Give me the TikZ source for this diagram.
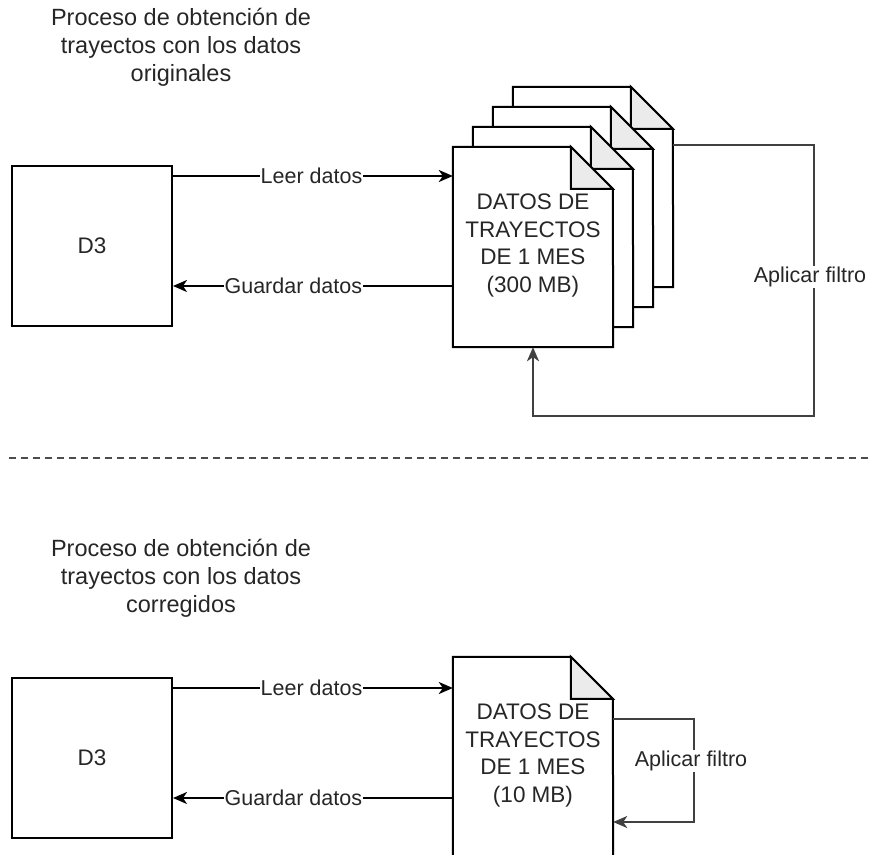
\documentclass[tikz,border=0pt]{standalone}
\usepackage{fontspec}
\setmainfont{Liberation Sans}
\usetikzlibrary{arrows.meta}
\newcommand\drawdoc[4]{%
  \node[docnode] (#1) at (#2+80,#3+100) {};
  \draw[docbody] (#1.north west) -- ++(118,0) -- ++(42,42) -- (#1.south east) -- (#1.south west) -- cycle;
  \draw[foldst] (#1.north west) ++(118,0) -- ++(0,42) -- ++(42,0) -- cycle;
  \node[txt, align=center, yshift=1.5pt] (#1t) at (#1.center) {#4};
}
\begin{document}
\begin{tikzpicture}[x=1pt,y=-1pt,
  txt/.style={text=black!85, font=\fontsize{22.5}{27.6}\selectfont},
  ttl/.style={text=black!85, font=\fontsize{23.5}{28}\selectfont, align=center},
  box/.style={draw, line width=2pt, minimum width=160pt, minimum height=160pt, inner sep=0pt, txt},
  conn/.style={line width=2pt},
  arr/.style={conn, -{Stealth[length=14pt,width=12pt,inset=4pt]}},
  looparr/.style={arr, draw=black!75},
  lbl/.style={text=black!85, font=\fontsize{21.5}{26}\selectfont, fill=white, inner sep=1pt},
  docbody/.style={fill=white, draw, line width=2pt, line join=miter},
  foldst/.style={fill=black!8, draw, line width=2pt, line join=miter},
  docnode/.style={minimum width=160pt, minimum height=200pt, inner sep=0pt}
]
\useasboundingbox (0,0) rectangle (870,854);
\clip (0,0) rectangle (870,854);

% ---------- top section ----------
\node[ttl] (title1) at (181,47.5) {Proceso de obtención de\\trayectos con los datos\\originales};
\node[box] (d3a) at (92,246) {D3};

\drawdoc{doc4}{513}{87}{}
\drawdoc{doc3}{493}{107}{}
\drawdoc{doc2}{473}{127}{}
\drawdoc{doc1}{453}{147}{DATOS DE\\TRAYECTOS\\DE 1 MES\\(300 MB)}

\draw[arr] (d3a.east |- 0,176) -- node[lbl, pos=0.495]{Leer datos} (doc1.west |- 0,176);
\draw[arr] (doc1.west |- 0,286) -- node[lbl, pos=0.57]{Guardar datos} (d3a.east |- 0,286);
\draw[looparr] (doc4.east |- 0,145) -- (814,145) -- node[lbl, pos=0.487, xshift=-4pt]{Aplicar filtro} (814,416) -- (doc1.south |- 0,416) -- (doc1.south);

% ---------- separator ----------
\draw[black!70, line width=2pt, dash pattern=on 7pt off 5pt] (9,458) -- (870,458);

% ---------- bottom section ----------
\node[ttl] (title2) at (181,578) {Proceso de obtención de\\trayectos con los datos\\corregidos};
\node[box] (d3b) at (92,757.5) {D3};

\drawdoc{doc5}{453}{657}{DATOS DE\\TRAYECTOS\\DE 1 MES\\(10 MB)}

\draw[arr] (d3b.east |- 0,688) -- node[lbl, pos=0.495]{Leer datos} (doc5.west |- 0,688);
\draw[arr] (doc5.west |- 0,798) -- node[lbl, pos=0.57]{Guardar datos} (d3b.east |- 0,798);
\draw[looparr] (doc5.east |- 0,719) -- (694,719) -- node[lbl, pos=0.41, xshift=-3pt]{Aplicar filtro} (694,822) -- (doc5.east |- 0,822);
\end{tikzpicture}
\end{document}
